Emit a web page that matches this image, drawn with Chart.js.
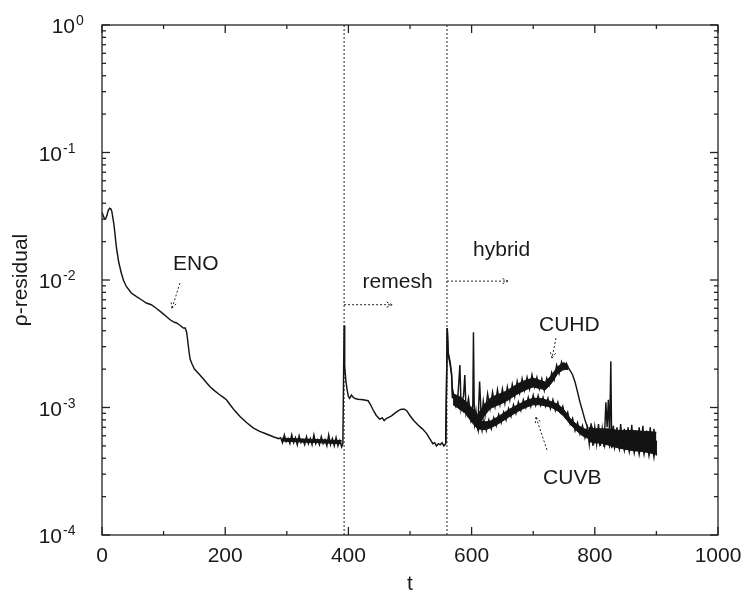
<!DOCTYPE html>
<html><head><meta charset="utf-8">
<script src="https://cdn.jsdelivr.net/npm/chart.js@4.4.0/dist/chart.umd.min.js"></script>
<style>html,body{margin:0;padding:0;background:#fff}#wrap{width:744px;height:594px;position:relative}</style>
</head><body><div id="wrap"><canvas id="c" width="744" height="594"></canvas></div>
<script>
// ENO phase followed by the remesh phase: [t, rho-residual]
const enoRemesh = [
[0,0.034],[2,0.032],[4.3,0.030],[6,0.0302],[8,0.032],[10,0.035],[12.4,0.0365],[14.5,0.036],[16,0.0344],
[19.5,0.027],[23.3,0.0182],[27,0.0139],[31.4,0.0113],[35,0.0099],[39.5,0.0089],[47.6,0.0079],[56,0.0074],
[64,0.0070],[72,0.0066],[80,0.0064],[88,0.0060],[96,0.0056],[104,0.0052],[110,0.0049],[116,0.0047],
[121,0.0046],[127,0.0044],[132,0.0042],[135,0.0042],[137.4,0.0039],[139,0.0034],[141,0.0028],[143,0.0024],
[146,0.0022],[150,0.0020],[159,0.0018],[167,0.00162],[175,0.00146],[183,0.00135],[190,0.00127],[197,0.00120],
[202,0.00115],[208,0.00105],[215,0.00095],[224,0.00085],[235,0.00076],[246,0.00069],[256,0.00065],
[267,0.00062],[278,0.00059],[287,0.00057],
[290,0.00058],[293,0.00053],[296,0.00061],[299,0.00054],[302,0.00057],[305,0.00052],[308,0.00061],
[311,0.00053],[314,0.00058],[317,0.00051],[320,0.00060],[323,0.00053],[326,0.00056],[329,0.00051],
[332,0.00059],[335,0.00052],[338,0.00057],[341,0.00051],[344,0.00061],[347,0.00052],[350,0.00056],
[353,0.00051],[356,0.00059],[359,0.00052],[362,0.00056],[365,0.00050],[368,0.00061],[371,0.00051],
[374,0.00057],[377,0.00050],[380,0.00058],[383,0.00050],[386,0.00055],[389,0.00049],[391,0.00052],
[393,0.0044],[394,0.0021],[396,0.0016],[398,0.00137],[400,0.00122],[402,0.00118],[405,0.00125],[408,0.0012],
[412,0.00117],[416,0.00116],[424,0.00115],[432,0.00113],[436,0.00105],[440,0.00096],[445,0.00087],
[450.7,0.00081],[455,0.00083],[458,0.00079],[461.5,0.00082],[466,0.00084],[470,0.00086],[475,0.0009],
[480.5,0.00094],[486,0.00097],[491,0.00097],[495,0.00094],[499.5,0.00087],[506,0.00079],[513,0.00073],
[520,0.00068],[526.5,0.00063],[531,0.00058],[535,0.00054],[537,0.00052],[540,0.00053],[543,0.00050],
[546,0.00052],[549,0.00051],[552,0.00053],[555,0.00050],[558,0.00052]
];
// noise band of the ENO plateau (upper / lower edge)
const enoBandHi = [[292,0.000575],[310,0.00057],[330,0.000565],[350,0.00056],[370,0.000555],[389,0.00055]];
const enoBandLo = [[292,0.000545],[310,0.00054],[330,0.000535],[350,0.00053],[370,0.000525],[389,0.00052]];

// hybrid phase, CUHD run
const cuhd = [
[558,0.00052],[560.5,0.0042],[562,0.0027],[565,0.0023],[567.5,0.00185],[569,0.0012],
[570,0.00132],[574,0.00104],[578,0.00128],[581,0.00215],[583,0.00098],[587,0.00125],[589,0.0018],
[591,0.00092],[595,0.00118],[599,0.00082],[602,0.00105],[603,0.0039],[604.5,0.00078],[607,0.00095],
[610,0.00066],[613,0.0016],[616,0.00078],[619,0.00112],[622,0.00088],[626,0.00128],[630,0.00098],
[634,0.00132],[638,0.00102],[642,0.00138],[646,0.00106],[650,0.0014],[654,0.00108],[658,0.00145],
[662,0.00115],[666,0.00152],[670,0.00122],[674,0.0016],[678,0.0013],[682,0.00168],[686,0.00137],
[690,0.00172],[694,0.0014],[698,0.0018],[702,0.00145],[706,0.00172],[710,0.0014],[714,0.00168],
[718,0.00136],[722,0.0017],[726,0.0015],[730,0.00188],[734,0.00165],[738,0.00215],[742,0.00185],
[746,0.00228],[750,0.002],[754,0.00222],[757,0.00205],[760,0.00195],[764,0.0018],[768,0.00158],
[772,0.00132],[776,0.0011],[780,0.00094],[784,0.0008],[788,0.0007],[791,0.00052],[794,0.00075],
[797,0.0005],[800,0.0007],[803,0.00052],[806,0.00074],[809,0.0005],[812,0.00068],[815,0.00049],
[818,0.0011],[820,0.0007],[822,0.00115],[824,0.0006],[826,0.0023],[827.5,0.00048],[830,0.00072],
[833,0.0005],[836,0.0007],[839,0.00048],[842,0.00074],[845,0.0005],[848,0.00068],[851,0.00047],
[854,0.0007],[857,0.00048],[860,0.00073],[863,0.00046],[866,0.00066],[869,0.00047],[872,0.0007],
[875,0.00046],[878,0.00072],[881,0.00045],[884,0.00066],[887,0.00046],[890,0.0007],[893,0.00045],
[896,0.00068],[899,0.00043],[900,0.00055]
];
// CUHD noise band (upper / lower edge), before and after the drop
const cuhdBandHi = [[570,0.00128],[580,0.00122],[590,0.00112],[600,0.001],[610,0.00088],[620,0.00105],
[630,0.00118],[640,0.00125],[650,0.0013],[660,0.00138],[670,0.00148],[680,0.00158],[690,0.00165],
[700,0.0017],[710,0.00164],[720,0.00158],[730,0.0018],[740,0.0021],[750,0.00225],[757,0.00212]];
const cuhdBandLo = [[570,0.00105],[580,0.00098],[590,0.00092],[600,0.00082],[610,0.0007],[620,0.00085],
[630,0.00098],[640,0.00103],[650,0.00108],[660,0.00115],[670,0.00124],[680,0.00132],[690,0.00139],
[700,0.00145],[710,0.00141],[720,0.00138],[730,0.00156],[740,0.00185],[750,0.002],[757,0.00198]];
const cuhdTailHi = [[790,0.0007],[800,0.00068],[820,0.00068],[840,0.00066],[860,0.00066],[880,0.00065],[900,0.00064]];
const cuhdTailLo = [[790,0.00054],[800,0.00053],[820,0.00052],[840,0.0005],[860,0.00049],[880,0.00048],[900,0.00047]];

// hybrid phase, CUVB run
const cuvb = [
[558,0.00052],[560.5,0.0042],[562,0.0026],[565,0.0022],[567.5,0.0018],[569,0.0012],
[572,0.00125],[575,0.00105],[578,0.0012],[581,0.001],[584,0.00115],[587,0.00095],[590,0.00108],
[593,0.00088],[596,0.001],[599,0.0008],[602,0.00092],[605,0.00072],[608,0.00085],[611,0.00066],
[614,0.0008],[617,0.00066],[620,0.0008],[624,0.00066],[628,0.0008],[632,0.00068],[636,0.00083],
[640,0.00072],[644,0.00088],[648,0.00076],[652,0.00092],[656,0.0008],[660,0.00098],[664,0.00085],
[668,0.00105],[672,0.0009],[676,0.0011],[680,0.00095],[684,0.00115],[688,0.001],[692,0.0012],
[696,0.00102],[700,0.00125],[704,0.00104],[708,0.00124],[712,0.00104],[716,0.0012],[720,0.00102],
[724,0.00118],[728,0.00098],[732,0.00115],[736,0.00095],[740,0.0011],[744,0.00092],[748,0.00102],
[752,0.00084],[756,0.00092],[760,0.00074],[764,0.00082],[768,0.00066],[772,0.00076],[776,0.00062],
[780,0.00072],[784,0.00058],[788,0.0007],[792,0.00055],[796,0.00068],[800,0.00054],[804,0.00066],
[808,0.00052],[812,0.00064],[816,0.0005],[820,0.00063],[824,0.0005],[828,0.00062],[832,0.00048],
[836,0.0006],[840,0.00047],[844,0.0006],[848,0.00046],[852,0.00058],[856,0.00045],[860,0.00058],
[864,0.00044],[868,0.00057],[872,0.00043],[876,0.00056],[880,0.00043],[884,0.00056],[888,0.00042],
[892,0.00055],[896,0.00041],[899,0.00054],[900,0.00042]
];
// CUVB noise band (upper / lower edge)
const cuvbBandHi = [[570,0.00122],[580,0.00113],[590,0.00103],[600,0.00089],[610,0.0008],[620,0.00077],
[630,0.00078],[640,0.00083],[650,0.00089],[660,0.00096],[670,0.00102],[680,0.00108],[690,0.00114],
[700,0.00118],[710,0.00118],[720,0.00115],[730,0.00111],[740,0.00106],[750,0.00096],[760,0.00082],
[770,0.00074],[780,0.00069],[790,0.00066],[800,0.00063],[820,0.00061],[840,0.00058],[860,0.00056],
[880,0.00055],[900,0.00053]];
const cuvbBandLo = [[570,0.00106],[580,0.00098],[590,0.0009],[600,0.00077],[610,0.00068],[620,0.00067],
[630,0.00069],[640,0.00073],[650,0.00078],[660,0.00084],[670,0.0009],[680,0.00096],[690,0.00101],
[700,0.00105],[710,0.00105],[720,0.00103],[730,0.001],[740,0.00094],[750,0.00085],[760,0.00074],
[770,0.00066],[780,0.0006],[790,0.00057],[800,0.00055],[820,0.00051],[840,0.00048],[860,0.00046],
[880,0.00045],[900,0.00043]];

const switchTimes = [393, 560];
const xMajorTicks = [0, 200, 400, 600, 800, 1000];
const xMinorTicks = [100, 300, 500, 700, 900];
const yExponents = [0, -1, -2, -3, -4];
const textLabels = [
  {text:'ENO', t:115.3, v:0.01197},
  {text:'remesh', t:423, v:0.00871},
  {text:'hybrid', t:602.3, v:0.0154},
  {text:'CUHD', t:709.4, v:0.0040},
  {text:'CUVB', t:716, v:0.00025}
];
const arrowList = [
  {t0:126.6, v0:0.00946, t1:113.6, v1:0.006},
  {t0:393, v0:0.0064, t1:471, v1:0.0064},
  {t0:560, v0:0.0098, t1:659, v1:0.0098},
  {t0:737, v0:0.0035, t1:730.5, v1:0.00244},
  {t0:722.4, v0:0.000465, t1:704.5, v1:0.00084}
];

const FONT = '"Liberation Sans", Arial, Helvetica, sans-serif';
const INK = '#141414';
const toXY = a => a.map(p => ({x:p[0], y:p[1]}));
const lineDs = d => ({data:toXY(d), borderColor:INK, borderWidth:1.45, pointRadius:0, tension:0, fill:false});
const bandPair = (hi, lo) => [
  {data:toXY(hi), borderColor:INK, borderWidth:1, pointRadius:0, tension:0, fill:false},
  {data:toXY(lo), borderColor:INK, borderWidth:1, pointRadius:0, tension:0, fill:'-1', backgroundColor:INK}
];

const decor = {
  id:'decor',
  afterDatasetsDraw(chart){
    const {ctx, chartArea:{left,right,top,bottom}, scales:{x,y}} = chart;
    ctx.save();
    const seg = (a,b,c,d) => {ctx.beginPath();ctx.moveTo(a,b);ctx.lineTo(c,d);ctx.stroke();};
    ctx.strokeStyle = '#222'; ctx.lineWidth = 1;
    for (const ar of arrowList){
      const x0=x.getPixelForValue(ar.t0), y0=y.getPixelForValue(ar.v0);
      const x1=x.getPixelForValue(ar.t1), y1=y.getPixelForValue(ar.v1);
      ctx.setLineDash([2,2]);
      seg(x0,y0,x1,y1);
      const ang=Math.atan2(y1-y0,x1-x0), L=7, w=0.45;
      seg(x1,y1,x1-L*Math.cos(ang-w),y1-L*Math.sin(ang-w));
      seg(x1,y1,x1-L*Math.cos(ang+w),y1-L*Math.sin(ang+w));
    }
    ctx.setLineDash([]);
    ctx.fillStyle = '#1a1a1a';
    ctx.font = '21px ' + FONT;
    ctx.textAlign = 'left'; ctx.textBaseline = 'alphabetic';
    for (const lb of textLabels){
      ctx.fillText(lb.text, x.getPixelForValue(lb.t), y.getPixelForValue(lb.v));
    }
    ctx.strokeStyle = '#222'; ctx.lineWidth = 1.3;
    ctx.strokeRect(left, top, right-left, bottom-top);
    for (const t of xMajorTicks){ const p=x.getPixelForValue(t); seg(p,bottom,p,bottom-8); seg(p,top,p,top+8); }
    for (const t of xMinorTicks){ const p=x.getPixelForValue(t); seg(p,bottom,p,bottom-4); seg(p,top,p,top+4); }
    for (const e of yExponents){
      const p=y.getPixelForValue(Math.pow(10,e));
      seg(left,p,left+8,p); seg(right,p,right-8,p);
      if (e<0){
        for (let m=2;m<=9;m++){
          const q=y.getPixelForValue(m*Math.pow(10,e));
          seg(left,q,left+4,q); seg(right,q,right-4,q);
        }
      }
    }
    ctx.font = '21px ' + FONT; ctx.textAlign='center'; ctx.textBaseline='alphabetic';
    for (const t of xMajorTicks){ ctx.fillText(String(t), x.getPixelForValue(t), bottom+27); }
    for (const e of yExponents){
      const p=y.getPixelForValue(Math.pow(10,e));
      const xr = left - (e===0 ? 27 : 40);
      ctx.font = '21px ' + FONT; ctx.textAlign='right';
      ctx.fillText('10', xr, p+8);
      ctx.font = '14px ' + FONT; ctx.textAlign='left';
      ctx.fillText(String(e), xr+1, p);
    }
    ctx.font = '21px ' + FONT; ctx.textAlign='center';
    ctx.fillText('t', (left+right)/2, 590);
    ctx.save();
    ctx.translate(27, (top+bottom)/2);
    ctx.rotate(-Math.PI/2);
    ctx.fillText('\u03c1-residual', 0, 0);
    ctx.restore();
    ctx.restore();
  }
};

new Chart(document.getElementById('c'), {
  type:'line',
  data:{datasets:[
    lineDs(enoRemesh), ...bandPair(enoBandHi, enoBandLo),
    lineDs(cuhd), ...bandPair(cuhdBandHi, cuhdBandLo), ...bandPair(cuhdTailHi, cuhdTailLo),
    lineDs(cuvb), ...bandPair(cuvbBandHi, cuvbBandLo),
    ...switchTimes.map(t => ({data:[{x:t,y:1e-4},{x:t,y:1}], borderColor:'#222', borderWidth:1, borderDash:[2,2], pointRadius:0, fill:false}))
  ]},
  options:{
    responsive:false, animation:false, devicePixelRatio:1,
    layout:{padding:{left:102, top:25, right:26, bottom:59}},
    plugins:{legend:{display:false}, tooltip:{enabled:false}, filler:{propagate:false}},
    scales:{
      x:{type:'linear', min:0, max:1000, display:false},
      y:{type:'logarithmic', min:1e-4, max:1, display:false}
    }
  },
  plugins:[decor]
});
</script></body></html>
